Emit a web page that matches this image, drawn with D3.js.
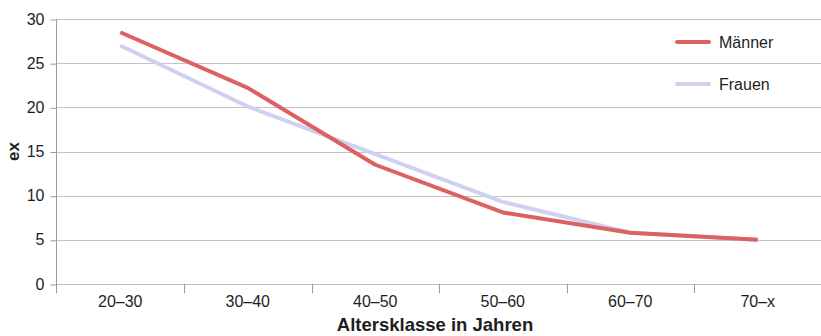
<!DOCTYPE html>
<html>
<head>
<meta charset="utf-8">
<script src="https://cdn.jsdelivr.net/npm/d3@7"></script>
<style>
  html, body { margin: 0; padding: 0; background: #fff; }
  svg { display: block; font-family: "Liberation Sans", Arial, Helvetica, sans-serif; }
</style>
</head>
<body>
<svg id="chart" width="821" height="336"></svg>
<script>
// Age classes and life expectancy (ex) per sex
const categories = ["20–30", "30–40", "40–50", "50–60", "60–70", "70–x"];
const maenner = [28.5, 22.2, 13.5, 8.1, 5.8, 5.0];
const frauen  = [27.0, 20.1, 14.7, 9.3, 5.8, 5.0];
const yTicks = [0, 5, 10, 15, 20, 25, 30];
const seriesNames = ["Männer", "Frauen"];
const seriesColors = ["#dd6161", "#cfd1f1"];

const svg = d3.select("#chart");
const margin = { left: 56.5, right: 0, top: 19, bottom: 52 };
const W = 821, H = 336;
const textColor = "#1e1e1e";

const x = d3.scaleBand()
  .domain(categories)
  .range([margin.left, margin.left + 6 * 127.5])
  .padding(0);

const y = d3.scaleLinear()
  .domain([0, 30])
  .range([H - margin.bottom, margin.top]);

// horizontal gridlines
svg.append("g")
  .selectAll("line")
  .data(yTicks)
  .join("line")
  .attr("x1", margin.left)
  .attr("x2", W)
  .attr("y1", d => Math.round(y(d)) + 0.5)
  .attr("y2", d => Math.round(y(d)) + 0.5)
  .attr("stroke", d => d === 0 ? "#bdbdbd" : "#c4c4c4")
  .attr("stroke-width", 1);

// y axis
const yAxis = d3.axisLeft(y).tickValues(yTicks).tickSize(6).tickPadding(6);
const gy = svg.append("g")
  .attr("transform", `translate(${margin.left},0)`)
  .call(yAxis);
gy.select(".domain").remove();
gy.selectAll(".tick line").attr("stroke", "#9a9a9a")
  .attr("transform", "translate(0,0.5)");
gy.selectAll(".tick text")
  .attr("font-size", 16)
  .attr("fill", textColor)
  .attr("font-family", "Liberation Sans, Arial, sans-serif");
svg.append("line")
  .attr("x1", margin.left).attr("x2", margin.left)
  .attr("y1", margin.top).attr("y2", y(0) + 9)
  .attr("stroke", "#9a9a9a");

// x axis: boundary ticks between categories, labels centred in each band
const boundaries = categories.map(c => x(c)).concat([x(categories[categories.length - 1]) + x.bandwidth()]);
svg.append("g")
  .selectAll("line")
  .data(boundaries.slice(1))
  .join("line")
  .attr("x1", d => Math.round(d) + 0.5)
  .attr("x2", d => Math.round(d) + 0.5)
  .attr("y1", y(0))
  .attr("y2", y(0) + 9)
  .attr("stroke", "#9a9a9a");

svg.append("g")
  .selectAll("text")
  .data(categories)
  .join("text")
  .attr("x", d => x(d) + x.bandwidth() / 2)
  .attr("y", y(0) + 23)
  .attr("text-anchor", "middle")
  .attr("font-size", 16)
  .attr("fill", textColor)
  .text(d => d);

// axis titles
svg.append("text")
  .attr("x", 435)
  .attr("y", 331)
  .attr("text-anchor", "middle")
  .attr("font-size", 18.5)
  .attr("font-weight", "bold")
  .attr("fill", textColor)
  .text("Altersklasse in Jahren");

svg.append("text")
  .attr("transform", `translate(19,${y(15)}) rotate(-90)`)
  .attr("text-anchor", "middle")
  .attr("font-size", 17)
  .attr("font-weight", "bold")
  .attr("fill", textColor)
  .text("ex");

// lines (Frauen drawn first, Männer on top)
const line = d3.line()
  .x((d, i) => x(categories[i]) + x.bandwidth() / 2)
  .y(d => y(d));

const data = [maenner, frauen];
[1, 0].forEach(k => {
  svg.append("path")
    .datum(data[k])
    .attr("d", line)
    .attr("fill", "none")
    .attr("stroke", seriesColors[k])
    .attr("stroke-width", 4)
    .attr("stroke-linejoin", "round");
});

// legend
const legend = svg.append("g");
seriesNames.forEach((name, i) => {
  const ly = 42 + i * 42;
  legend.append("line")
    .attr("x1", 677).attr("x2", 709)
    .attr("y1", ly).attr("y2", ly)
    .attr("stroke", seriesColors[i])
    .attr("stroke-width", 4)
    .attr("stroke-linecap", "round");
  legend.append("text")
    .attr("x", 719)
    .attr("y", ly + 5.5)
    .attr("font-size", 16)
    .attr("fill", textColor)
    .text(name);
});
</script>
</body>
</html>
